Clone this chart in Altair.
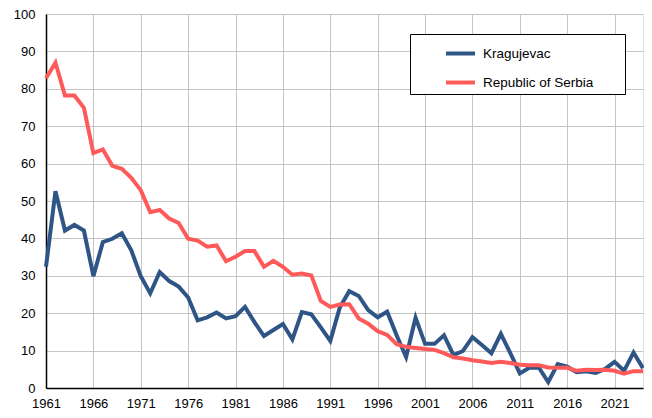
import altair as alt
import pandas as pd

years = list(range(1961, 2025))

kragujevac = [32.4, 52.6, 42.1, 43.6, 42.1, 29.9, 39.0, 39.9, 41.4, 36.8,
              29.9, 25.3, 31.0, 28.6, 27.1, 24.2, 18.1, 18.9, 20.2, 18.6,
              19.2, 21.7, 17.6, 13.9, 15.5, 17.1, 13.0, 20.3, 19.7, 16.2,
              12.6, 21.5, 25.9, 24.6, 20.8, 18.9, 20.4, 14.1, 8.3, 18.8,
              11.8, 11.8, 14.1, 8.8, 9.9, 13.6, 11.5, 9.3, 14.5, 9.3,
              3.9, 5.4, 5.5, 1.6, 6.4, 5.7, 4.2, 4.5, 4.0, 5.1,
              7.0, 4.6, 9.5, 5.3]

serbia = [82.8, 87.0, 78.2, 78.2, 74.9, 62.8, 63.8, 59.4, 58.6, 56.2,
          52.9, 47.0, 47.6, 45.3, 44.1, 39.9, 39.4, 37.8, 38.1, 33.9,
          35.1, 36.6, 36.6, 32.4, 34.0, 32.4, 30.3, 30.6, 30.1, 23.3,
          21.7, 22.3, 22.4, 18.6, 17.2, 15.2, 14.2, 11.7, 11.0, 10.7,
          10.4, 10.2, 9.3, 8.2, 7.9, 7.4, 7.1, 6.7, 7.0, 6.7,
          6.2, 6.1, 6.1, 5.5, 5.4, 5.4, 4.6, 4.9, 4.8, 4.9,
          4.6, 3.8, 4.5, 4.5]

series_names = ["Kragujevac", "Republic of Serbia"]
series_colors = ["#2F5587", "#FF5A5A"]
x_ticks = list(range(1961, 2022, 5))
y_ticks = list(range(0, 101, 10))

df = pd.concat([
    pd.DataFrame({"year": years, "value": kragujevac, "series": series_names[0]}),
    pd.DataFrame({"year": years, "value": serbia, "series": series_names[1]}),
])

FONT = "Liberation Sans"

chart = alt.Chart(df).mark_line(strokeWidth=4, strokeJoin="miter").encode(
    x=alt.X("year:Q",
            scale=alt.Scale(domain=[1961, 2024], nice=False, zero=False),
            axis=alt.Axis(values=x_ticks, format="d", title=None, ticks=False,
                          labelPadding=9, labelFontSize=13, labelFont=FONT,
                          labelColor="#000000", domainColor="#000000",
                          domainWidth=1.5, grid=True, gridColor="#C4C4C4",
                          gridWidth=1, labelFlush=False)),
    y=alt.Y("value:Q",
            scale=alt.Scale(domain=[0, 100], nice=False),
            axis=alt.Axis(values=y_ticks, title=None, ticks=False,
                          labelPadding=11, labelFontSize=13, labelFont=FONT,
                          labelColor="#000000", domainColor="#000000",
                          domainWidth=1.5, grid=True, gridColor="#C4C4C4",
                          gridWidth=1)),
    color=alt.Color("series:N",
                    scale=alt.Scale(domain=series_names, range=series_colors),
                    sort=series_names,
                    legend=alt.Legend(title="\u00a0", titleOrient="right",
                                      titlePadding=29, titleFontSize=13.5,
                                      orient="none",
                                      legendX=364, legendY=20,
                                      symbolType="stroke", symbolSize=841,
                                      symbolStrokeWidth=4, symbolOffset=31,
                                      labelFontSize=13.5, labelFont=FONT,
                                      labelColor="#000000", labelOffset=6,
                                      rowPadding=4, padding=3,
                                      strokeColor="#000000", fillColor="#FFFFFF")),
).properties(
    width=597,
    height=374,
    autosize=alt.AutoSizeParams(type="none"),
    padding={"left": 38, "top": 6, "right": 1, "bottom": 21},
).configure_view(
    stroke="#808080", strokeWidth=1.5
).configure(background="#FFFFFF")

chart.save("out.html", embed_options={"renderer": "svg", "actions": False})
